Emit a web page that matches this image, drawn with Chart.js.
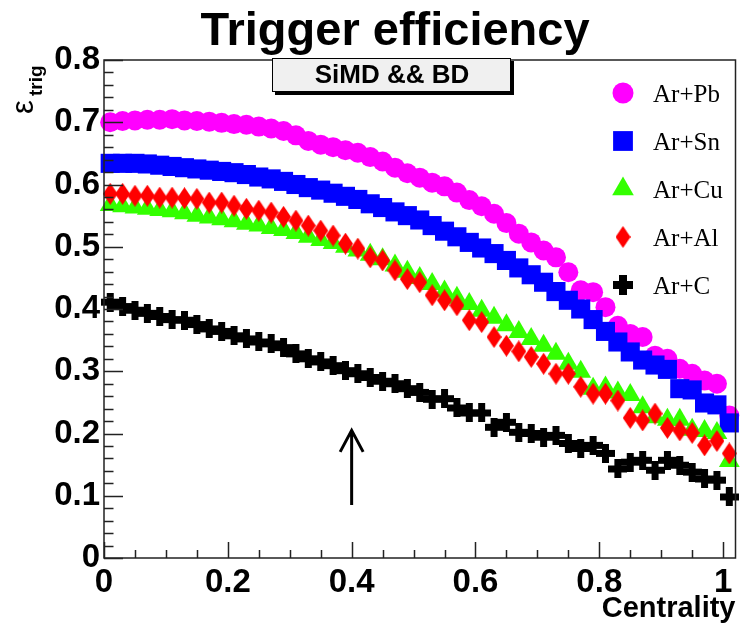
<!DOCTYPE html>
<html>
<head>
<meta charset="utf-8">
<script src="https://cdn.jsdelivr.net/npm/chart.js@4"></script>
<style>
  html, body { margin: 0; padding: 0; background: #fff; }
  #wrap { width: 749px; height: 628px; }
</style>
</head>
<body>
<div id="wrap"><canvas id="chart" width="749" height="628"></canvas></div>
<script>
// centrality bins (x) and efficiencies per system (y)
const centrality = [0.01, 0.03, 0.05, 0.07, 0.09, 0.11, 0.13, 0.15, 0.17, 0.19,
  0.21, 0.23, 0.25, 0.27, 0.29, 0.31, 0.33, 0.35, 0.37, 0.39,
  0.41, 0.43, 0.45, 0.47, 0.49, 0.51, 0.53, 0.55, 0.57, 0.59,
  0.61, 0.63, 0.65, 0.67, 0.69, 0.71, 0.73, 0.75, 0.77, 0.79,
  0.81, 0.83, 0.85, 0.87, 0.89, 0.91, 0.93, 0.95, 0.97, 0.99, 1.01];

const arPb = [0.700, 0.702, 0.703, 0.704, 0.704, 0.705, 0.703, 0.702, 0.701, 0.699,
  0.697, 0.696, 0.693, 0.690, 0.686, 0.679, 0.670, 0.664, 0.660, 0.655,
  0.651, 0.644, 0.637, 0.627, 0.618, 0.611, 0.603, 0.597, 0.587, 0.575,
  0.565, 0.553, 0.538, 0.521, 0.507, 0.494, 0.483, 0.459, 0.430, 0.427,
  0.403, 0.373, 0.360, 0.355, 0.325, 0.320, 0.304, 0.296, 0.285, 0.280, 0.229];

const arSn = [0.634, 0.634, 0.634, 0.633, 0.631, 0.629, 0.627, 0.625, 0.623, 0.621,
  0.619, 0.616, 0.612, 0.609, 0.605, 0.600, 0.595, 0.591, 0.586, 0.581,
  0.576, 0.569, 0.563, 0.556, 0.550, 0.543, 0.534, 0.525, 0.516, 0.507,
  0.498, 0.489, 0.478, 0.466, 0.455, 0.443, 0.428, 0.414, 0.400, 0.383,
  0.364, 0.347, 0.331, 0.318, 0.310, 0.303, 0.272, 0.270, 0.249, 0.246, 0.217];

const arCu = [0.567, 0.565, 0.563, 0.561, 0.559, 0.557, 0.554, 0.550, 0.547, 0.544,
  0.541, 0.537, 0.534, 0.530, 0.527, 0.522, 0.516, 0.511, 0.506, 0.500,
  0.494, 0.487, 0.480, 0.470, 0.460, 0.450, 0.440, 0.428, 0.418, 0.408,
  0.397, 0.386, 0.374, 0.363, 0.352, 0.341, 0.328, 0.312, 0.299, 0.272,
  0.274, 0.266, 0.262, 0.242, 0.226, 0.222, 0.222, 0.206, 0.204, 0.201, 0.156];

const arAl = [0.585, 0.585, 0.582, 0.582, 0.579, 0.579, 0.578, 0.577, 0.571, 0.571,
  0.566, 0.561, 0.558, 0.555, 0.548, 0.542, 0.534, 0.526, 0.518, 0.505,
  0.497, 0.483, 0.478, 0.462, 0.448, 0.443, 0.422, 0.414, 0.406, 0.382,
  0.379, 0.355, 0.341, 0.332, 0.323, 0.312, 0.296, 0.296, 0.275, 0.264,
  0.264, 0.253, 0.225, 0.221, 0.232, 0.209, 0.205, 0.201, 0.181, 0.188, 0.168];

const arC = [0.411, 0.404, 0.398, 0.393, 0.388, 0.383, 0.382, 0.375, 0.368, 0.364,
  0.357, 0.352, 0.347, 0.344, 0.338, 0.328, 0.320, 0.315, 0.309, 0.301,
  0.296, 0.290, 0.284, 0.280, 0.272, 0.266, 0.255, 0.256, 0.241, 0.233,
  0.233, 0.210, 0.218, 0.202, 0.200, 0.194, 0.197, 0.184, 0.176, 0.181,
  0.168, 0.143, 0.154, 0.157, 0.141, 0.157, 0.149, 0.138, 0.127, 0.125, 0.098];

const seriesNames = ['Ar+Pb', 'Ar+Sn', 'Ar+Cu', 'Ar+Al', 'Ar+C'];

const xTicks = [0, 0.2, 0.4, 0.6, 0.8, 1];
const xTickLabels = ['0', '0.2', '0.4', '0.6', '0.8', '1'];
const yTicks = [0, 0.1, 0.2, 0.3, 0.4, 0.5, 0.6, 0.7, 0.8];
const yTickLabels = ['0', '0.1', '0.2', '0.3', '0.4', '0.5', '0.6', '0.7', '0.8'];

// arrow marking the centrality cut
const arrowAt = { x: 0.4, y0: 0.085, y1: 0.205 };

const SANS = '"Liberation Sans", Arial, sans-serif';
const SERIF = '"Liberation Serif", "Times New Roman", serif';

function toXY(vals) {
  return vals.map((v, i) => ({ x: centrality[i], y: v }));
}

function marker(w, h, color, path) {
  const c = document.createElement('canvas');
  c.width = w; c.height = h;
  const g = c.getContext('2d');
  g.fillStyle = color;
  g.beginPath();
  path(g, w, h);
  g.fill();
  return c;
}
const diamond = (g, w, h) => {
  g.moveTo(w / 2, 0); g.lineTo(w, h / 2); g.lineTo(w / 2, h); g.lineTo(0, h / 2); g.closePath();
};
const plus = (g, w, h) => {
  const t = Math.round(w * 0.38);
  g.rect((w - t) / 2, 0, t, h);
  g.rect(0, (h - t) / 2, w, t);
};

const diamondImg = marker(15, 22, '#ff0000', diamond);
const plusImg = marker(19, 19, '#000000', plus);
const diamondLeg = marker(15, 22, '#ff0000', diamond);
const plusLeg = marker(20, 20, '#000000', plus);

const styles = [
  { pointStyle: 'circle', pointRadius: 10, color: '#ff00ff', legStyle: 'circle', legRadius: 10.5 },
  { pointStyle: 'rect', pointRadius: 13.5, color: '#0000ff', legStyle: 'rect', legRadius: 14 },
  { pointStyle: 'triangle', pointRadius: 12, color: '#33ff00', legStyle: 'triangle', legRadius: 12.5 },
  { pointStyle: diamondImg, pointRadius: 10, color: '#ff0000', legStyle: diamondLeg, legRadius: 10 },
  { pointStyle: plusImg, pointRadius: 10, color: '#000000', legStyle: plusLeg, legRadius: 10 }
];
const seriesValues = [arPb, arSn, arCu, arAl, arC];

const datasets = seriesValues.map((vals, i) => ({
  label: seriesNames[i],
  data: toXY(vals),
  showLine: false,
  pointStyle: styles[i].pointStyle,
  pointRadius: styles[i].pointRadius,
  pointHoverRadius: styles[i].pointRadius,
  pointBorderWidth: 0,
  backgroundColor: styles[i].color,
  borderColor: styles[i].color,
  clip: false,
  order: 5 - i
}));

const rootStyle = {
  id: 'rootStyle',
  afterDatasetsDraw(chart) {
    const ctx = chart.ctx;
    const a = chart.chartArea;
    const xs = chart.scales.x, ys = chart.scales.y;
    ctx.save();

    // frame
    ctx.strokeStyle = '#222';
    ctx.lineWidth = 1.5;
    ctx.strokeRect(a.left, a.top, a.right - a.left, a.bottom - a.top);

    // ticks inside the frame
    ctx.beginPath();
    for (let k = 0; k <= 40; k++) {
      const v = k * 0.02;
      const py = Math.round(ys.getPixelForValue(v)) + 0.5;
      const len = (k % 5 === 0) ? 19 : 9.5;
      ctx.moveTo(a.left, py); ctx.lineTo(a.left + len, py);
    }
    for (let k = 0; k <= 20; k++) {
      const v = k * 0.05;
      const px = Math.round(xs.getPixelForValue(v)) + 0.5;
      const len = (k % 4 === 0) ? 16 : 8;
      ctx.moveTo(px, a.bottom); ctx.lineTo(px, a.bottom - len);
    }
    ctx.stroke();

    // arrow
    const ax = xs.getPixelForValue(arrowAt.x);
    const ay0 = ys.getPixelForValue(arrowAt.y0);
    const ay1 = ys.getPixelForValue(arrowAt.y1);
    ctx.strokeStyle = '#000';
    ctx.lineWidth = 3;
    ctx.beginPath();
    ctx.moveTo(ax, ay0); ctx.lineTo(ax, ay1);
    ctx.moveTo(ax - 11.5, ay1 + 21.5); ctx.lineTo(ax, ay1); ctx.lineTo(ax + 11.5, ay1 + 21.5);
    ctx.stroke();

    // subtitle pave with shadow
    ctx.fillStyle = '#000';
    ctx.fillRect(275, 61, 239, 34);
    ctx.fillStyle = '#f0f0f0';
    ctx.fillRect(272, 58, 239, 34);
    ctx.strokeStyle = '#000';
    ctx.lineWidth = 1;
    ctx.strokeRect(272.5, 58.5, 238, 33);
    ctx.fillStyle = '#000';
    ctx.font = 'bold 26px ' + SANS;
    ctx.textAlign = 'center';
    ctx.textBaseline = 'middle';
    ctx.fillText('SiMD && BD', 392, 76);

    // legend
    ctx.textAlign = 'left';
    ctx.font = '25px ' + SERIF;
    styles.forEach((s, i) => {
      const ly = 93 + i * 48;
      ctx.fillStyle = s.color;
      Chart.helpers.drawPoint(ctx, { pointStyle: s.legStyle, radius: s.legRadius, rotation: 0, borderWidth: 0 }, 623, ly);
      ctx.fillStyle = '#000';
      ctx.fillText(seriesNames[i], 653, ly + 2);
    });

    // title
    ctx.font = 'bold 47px ' + SANS;
    ctx.textAlign = 'center';
    ctx.textBaseline = 'alphabetic';
    ctx.fillText('Trigger efficiency', 395, 45);

    // y axis title: epsilon_trig
    ctx.translate(33, 114);
    ctx.rotate(-Math.PI / 2);
    ctx.textAlign = 'left';
    ctx.font = '31px ' + SANS;
    ctx.fillText('\u03B5', 0, 0);
    ctx.font = 'bold 19px ' + SANS;
    ctx.fillText('trig', 18, 9);
    ctx.restore();
  }
};

new Chart(document.getElementById('chart'), {
  type: 'scatter',
  data: { datasets: datasets },
  options: {
    responsive: false,
    animation: false,
    events: [],
    layout: { padding: { top: 60, right: 10, left: 0, bottom: 0 } },
    plugins: {
      legend: { display: false },
      tooltip: { enabled: false },
      title: { display: false }
    },
    scales: {
      x: {
        type: 'linear',
        min: 0,
        max: 1.02,
        grid: { display: false, drawTicks: false },
        border: { display: false },
        afterBuildTicks: s => { s.ticks = xTicks.map(v => ({ value: v })); },
        afterFit: s => { s.height = 70; },
        ticks: {
          padding: 5,
          maxRotation: 0,
          autoSkip: false,
          color: '#000',
          font: { family: SANS, size: 33, weight: 'bold' },
          callback: (v, i) => xTickLabels[i]
        },
        title: {
          display: true,
          text: 'Centrality',
          align: 'end',
          color: '#000',
          font: { family: SANS, size: 29, weight: 'bold' },
          padding: { top: 0, bottom: 2 }
        }
      },
      y: {
        type: 'linear',
        min: 0,
        max: 0.8,
        grid: { display: false, drawTicks: false },
        border: { display: false },
        afterBuildTicks: s => { s.ticks = yTicks.map(v => ({ value: v })); },
        afterFit: s => { s.width = 104; },
        ticks: {
          padding: 4,
          autoSkip: false,
          color: '#000',
          font: { family: SANS, size: 33, weight: 'bold' },
          callback: (v, i) => yTickLabels[i]
        }
      }
    }
  },
  plugins: [rootStyle]
});
</script>
</body>
</html>
